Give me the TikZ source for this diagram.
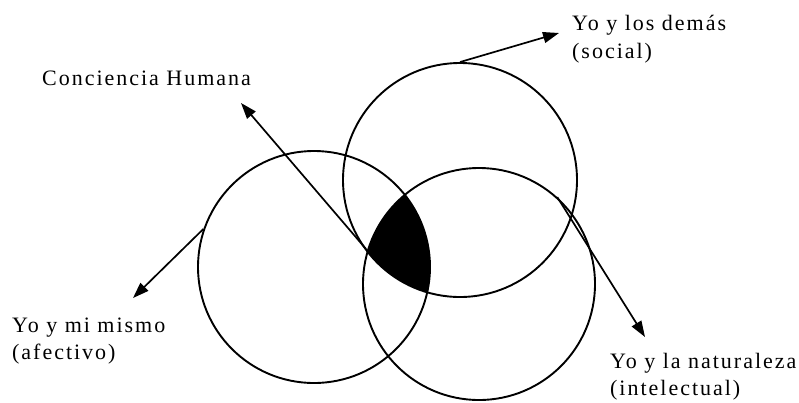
\documentclass[tikz,border=0pt]{standalone}
\usepackage{fontspec}
\newfontfamily\lblfont[LetterSpace=9]{Liberation Serif}
\usetikzlibrary{arrows.meta}
\begin{document}
\begin{tikzpicture}[x=1pt,y=-1pt,
  ring/.style={circle,draw,line width=1.9pt,inner sep=0pt},
  pointer/.style={line width=1.7pt,-{Triangle[length=16pt,width=11pt]}},
  lbl/.style={anchor=base west,inner sep=0pt,font=\lblfont\fontsize{22}{27}\selectfont}]
\useasboundingbox[fill=white] (0,0) rectangle (799,402);
% circles
\node[ring,minimum size=232pt] (A) at (314,267) {};
\node[ring,minimum size=234pt] (B) at (460,180) {};
\node[ring,minimum size=232pt] (C) at (479,284) {};
% common core
\begin{scope}
  \clip (A.center) circle[radius=116];
  \clip (B.center) circle[radius=117];
  \fill (C.center) circle[radius=116];
\end{scope}
\coordinate (core) at (366,249);
% labels
\node[lbl] (hum) at (42,85) {Conciencia Humana};
\node[lbl] (dem) at (572,30) {Yo y los demás};
\node[lbl] (dem2) at (572,58) {(social)};
\node[lbl] (mis) at (12,332) {Yo y mi mismo};
\node[lbl] (mis2) at (12,359) {(afectivo)};
\node[lbl] (nat) at (610,368) {Yo y la naturaleza};
\node[lbl] (nat2) at (610,395) {(intelectual)};
% arrow tips
\coordinate (thum) at (241,103);
\coordinate (tdem) at (559,33);
\coordinate (tmis) at (133,298);
\coordinate (tnat) at (645,337);
% arrows
\draw[pointer] (core) -- (thum);
\draw[pointer] (B.north) -- (tdem);
\draw[pointer] (A.161) -- (tmis);
\draw[pointer] (C.48) -- (tnat);
\end{tikzpicture}
\end{document}
